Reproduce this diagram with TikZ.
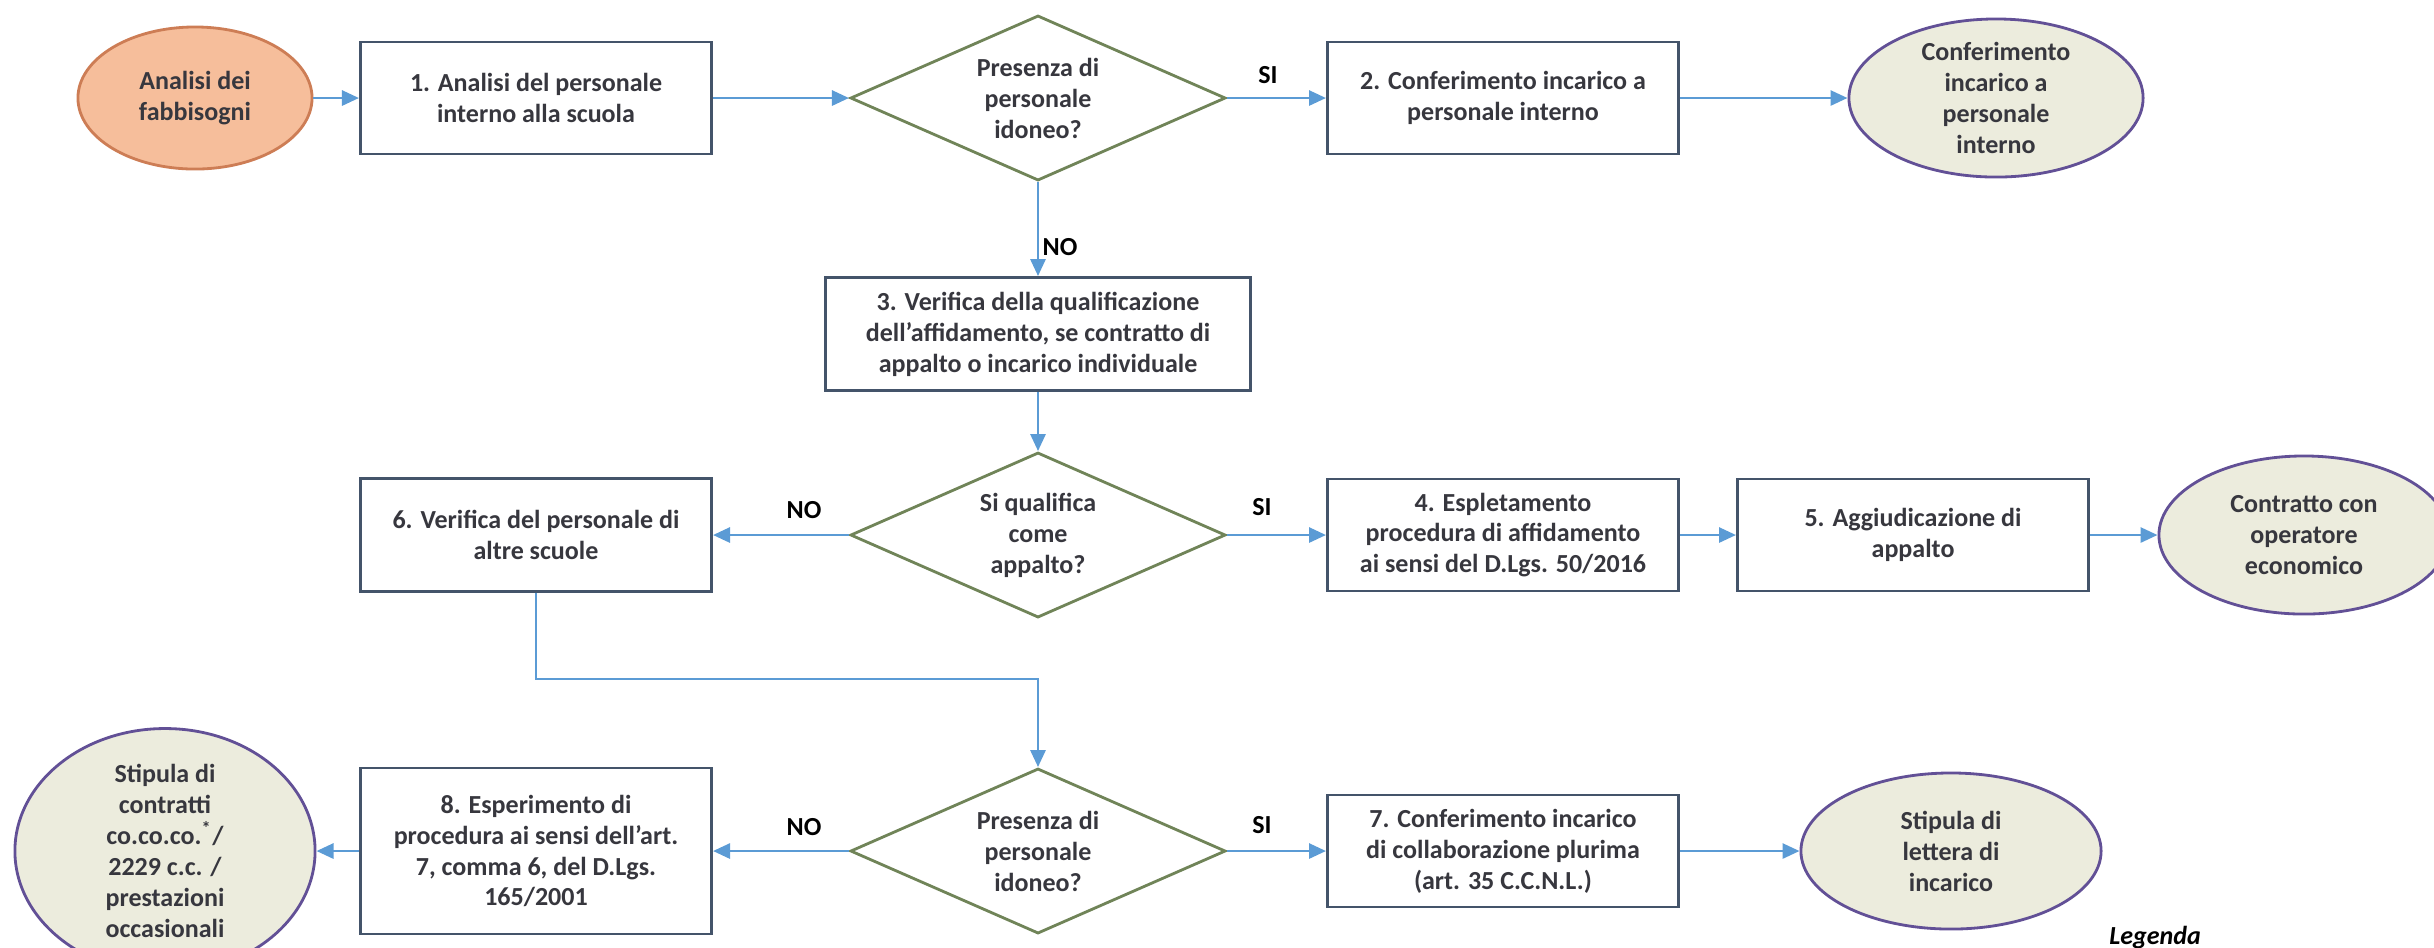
\documentclass[tikz,border=0pt]{standalone}
\usepackage{fontspec}
\setmainfont{Carlito}
\usetikzlibrary{shapes.geometric,arrows.meta}
\definecolor{boxline}{RGB}{68,84,106}
\definecolor{flowblue}{RGB}{91,155,213}
\definecolor{diamondline}{RGB}{112,132,88}
\definecolor{startfill}{RGB}{246,190,155}
\definecolor{startline}{RGB}{205,125,85}
\definecolor{endfill}{RGB}{236,236,221}
\definecolor{endline}{RGB}{98,80,150}
\definecolor{textgray}{RGB}{55,55,62}
\begin{document}
\begin{tikzpicture}[
  x=0.01cm, y=-0.01cm,
  font=\fontsize{7.4}{8.8}\selectfont\bfseries, text=textgray,
  stepbox/.style={draw=boxline, line width=0.8pt, fill=white, align=center,
    minimum width=3.51cm, minimum height=1.12cm, inner sep=0pt},
  decision/.style={diamond, draw=diamondline, line width=0.8pt, align=center,
    aspect=2.27, minimum width=3.75cm, minimum height=1.65cm, inner sep=0pt},
  outcome/.style={ellipse, draw=endline, fill=endfill, line width=0.8pt,
    align=center, inner sep=0pt},
  answer/.style={text=black},
  flow/.style={draw=flowblue, line width=0.8pt,
    -{Triangle[length=1.7mm,width=1.5mm]}}]
    \useasboundingbox (0,0) rectangle (2434,947);
    \clip (0,0) rectangle (2434,947);
    % First row: internal staff
    \node[ellipse, draw=startline, fill=startfill, line width=0.8pt, align=center,
      minimum width=2.34cm, minimum height=1.42cm] (analisi) at (195,98) {Analisi dei\\fabbisogni};
    \node[stepbox] (box1) at (536,98) {1. Analisi del personale\\interno alla scuola};
    \node[decision] (dec1) at (1038,98) {Presenza di\\personale\\idoneo?};
    \node[stepbox] (box2) at (1503,98) {2. Conferimento incarico a\\personale interno};
    \node[outcome, minimum width=2.94cm, minimum height=1.58cm] (conf) at (1996,98)
      {Conferimento\\incarico a\\personale\\interno};
    % Qualification of the assignment
    \node[stepbox, minimum width=4.24cm, minimum height=1.13cm] (box3) at (1038,334)
      {3. Verifica della qualificazione\\dell’affidamento, se contratto di\\appalto o incarico individuale};
    % Second row: contract or other schools
    \node[decision] (dec2) at (1038,535) {Si qualifica\\come\\appalto?};
    \node[stepbox, minimum height=1.13cm] (box6) at (536,535) {6. Verifica del personale di\\altre scuole};
    \node[stepbox] (box4) at (1503,535) {4. Espletamento\\procedura di affidamento\\ai sensi del D.Lgs. 50/2016};
    \node[stepbox] (box5) at (1913,535) {5. Aggiudicazione di\\appalto};
    \node[outcome, minimum width=2.90cm, minimum height=1.58cm] (contratto) at (2304,535)
      {Contratto con\\operatore\\economico};
    % Third row: staff of other schools
    \coordinate (bend) at (536,679);
    \node[decision] (dec3) at (1038,851) {Presenza di\\personale\\idoneo?};
    \node[stepbox, minimum height=1.66cm] (box8) at (536,851)
      {8. Esperimento di\\procedura ai sensi dell'art.\\7, comma 6, del D.Lgs.\\165/2001};
    \node[outcome, minimum width=3.00cm, minimum height=2.08cm] (stipcontr) at (165,851)
      {Stipula di\\contratti\\co.co.co.\textsuperscript{*}/\\2229 c.c. /\\prestazioni\\occasionali};
    \node[stepbox] (box7) at (1503,851) {7. Conferimento incarico\\di collaborazione plurima\\(art. 35 C.C.N.L.)};
    \node[outcome, minimum width=3.00cm, minimum height=1.56cm] (stiplett) at (1951,851)
      {Stipula di\\lettera di\\incarico};
    % Answers
    \node[answer] (si1) at (1268,75) {SI};
    \node[answer] (no1) at (1060,247) {NO};
    \node[answer] (no2) at (804,510) {NO};
    \node[answer] (si2) at (1262,507) {SI};
    \node[answer] (no3) at (804,827) {NO};
    \node[answer] (si3) at (1262,825) {SI};
    \node[font=\fontsize{7.4}{8.8}\selectfont\bfseries\itshape, text=black] (legenda) at (2155,938) {Legenda};
    % Connectors
    \draw[flow] (analisi) -- (box1);
    \draw[flow] (box1) -- (dec1);
    \draw[flow] (dec1) -- (box2);
    \draw[flow] (box2) -- (conf);
    \draw[flow] (dec1) -- (box3);
    \draw[flow] (box3) -- (dec2);
    \draw[flow] (dec2) -- (box6);
    \draw[flow] (dec2) -- (box4);
    \draw[flow] (box4) -- (box5);
    \draw[flow] (box5) -- (contratto);
    \draw[flow] (box6.south) -- (bend) -| (dec3.north);
    \draw[flow] (dec3) -- (box8);
    \draw[flow] (box8) -- (stipcontr);
    \draw[flow] (dec3) -- (box7);
    \draw[flow] (box7) -- (stiplett);
\end{tikzpicture}
\end{document}
